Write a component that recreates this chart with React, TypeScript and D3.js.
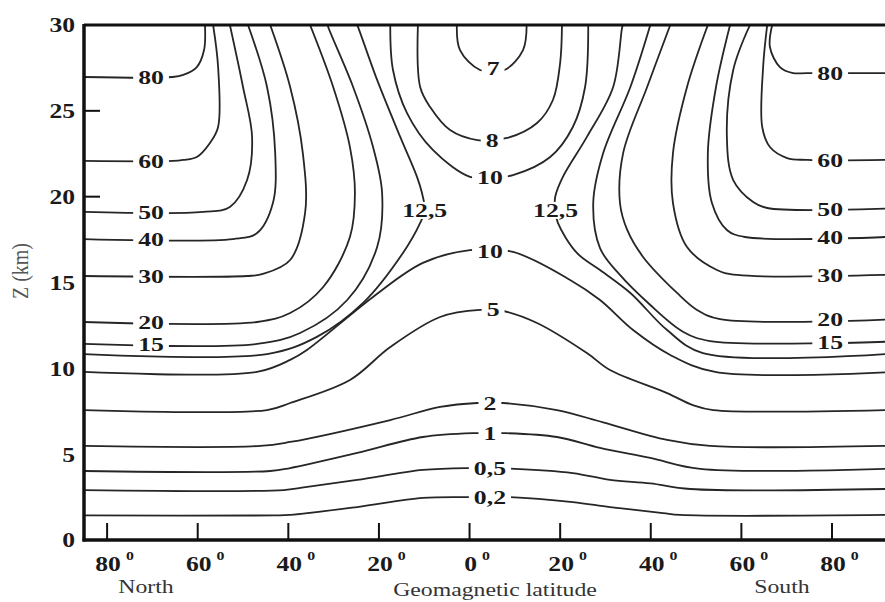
import React from 'react';
import * as d3 from 'd3';

type P = [number, number];

// latitude in degrees: positive = North (left), negative = South (right); z in km
const xTicks = [80, 60, 40, 20, 0, -20, -40, -60, -80];
const yTicks = [0, 5, 10, 15, 20, 25, 30];
const yInnerTicks = [20, 25];

const c02: P[] = [[85.1,1.43],[43,1.43],[39.6,1.46],[24.8,1.92],[10.3,2.45],[-0.1,2.5],[-8.9,2.5],[-22.8,2.21],[-31.0,1.92],[-42.7,1.57],[-46.5,1.46],[-91.7,1.46]];
const c05: P[] = [[85.1,2.91],[41,2.91],[37,3.05],[24.8,3.5],[10.3,4.08],[-0.1,4.19],[-8.9,4.16],[-22.8,3.9],[-31.0,3.5],[-39.9,3.3],[-48.7,2.97],[-91.7,2.97]];
const c1: P[] = [[85.1,4.02],[44,4.02],[39.6,4.19],[24.8,5.07],[10.3,6.0],[-1.7,6.23],[-7.4,6.23],[-19.3,6.0],[-28.8,5.36],[-39.9,4.78],[-50.9,4.14],[-91.7,4.14]];
const c2: P[] = [[85.1,5.48],[46.2,5.48],[39.6,5.71],[17.5,6.99],[6.5,7.75],[-1.7,7.98],[-7.4,7.98],[-19.3,7.57],[-29.5,6.85],[-43.6,5.83],[-53.1,5.48],[-91.7,5.48]];
const c5: P[] = [[85.1,7.57],[44.7,7.57],[39.6,7.98],[26.4,9.32],[17.5,11.24],[6.5,12.99],[-2.3,13.4],[-7.4,13.34],[-14.9,12.64],[-25.9,10.89],[-31.0,9.9],[-43.6,8.56],[-49.3,7.86],[-53.8,7.57],[-91.7,7.57]];
const c10Low: P[] = [[85.1,9.79],[46.9,9.79],[39.6,10.49],[35.9,11.07],[21.3,14.16],[10.3,16.14],[-0.1,16.89],[-9.6,16.78],[-22.2,15.15],[-28.8,13.98],[-36.1,12.23],[-44.3,10.78],[-54.2,9.79],[-91.7,9.76]];
const c10Up: P[] = [[17.5,30],[16.9,27.38],[13.8,24.87],[8.1,22.72],[-0.1,21.15],[-4.5,21.1],[-9.6,21.26],[-17.8,22.31],[-22.8,24.06],[-25.5,26.39],[-26.2,30]];
const c8: P[] = [[11.4,30],[10.9,26.39],[8.7,25.22],[4.3,23.88],[-1.7,23.3],[-8.3,23.42],[-14.9,24.29],[-18.4,25.63],[-20.0,27.8],[-20.4,30]];
const c7: P[] = [[2.8,30],[2.1,28.54],[-2.3,27.38],[-7.7,27.38],[-11.8,28.54],[-12.6,30]];
const c125N: P[] = [[85.1,10.83],[44.7,10.83],[33.7,11.83],[23.5,13.81],[14.7,16.72],[10.9,18.47],[9.9,19.22],[10.5,20.21],[11.6,21.15],[15.3,23.48],[20.4,26.8],[24.6,29.88],[24.8,30]];
const c125S: P[] = [[-33.9,30],[-33.7,29.88],[-31.7,26.39],[-25.9,23.48],[-20.6,21.15],[-18.9,19.98],[-18.9,19.2],[-19.5,18.47],[-23.7,16.72],[-28.8,15.73],[-35.5,14.39],[-43.6,12.23],[-51.5,10.89],[-91.7,10.83]];
const c15N: P[] = [[85.1,11.42],[46.9,11.42],[37.4,12.06],[27.0,13.98],[20.4,17.07],[19.3,20.21],[21.3,22.89],[25.7,26.39],[31.2,29.88],[31.3,30]];
const c15S: P[] = [[-39.9,30],[-35.5,26.39],[-29.5,22.54],[-27.3,19.63],[-28.8,17.0],[-33.2,15.44],[-39.9,13.69],[-47.2,12.12],[-53.1,11.59],[-91.7,11.55]];
const c20N: P[] = [[85.1,12.7],[46.9,12.7],[39.6,13.22],[32.3,14.74],[26.4,17.65],[25.3,20.21],[26.4,22.89],[30.1,26.39],[35.2,30]];
const c20S: P[] = [[-44.3,30],[-39.2,26.39],[-33.9,22.54],[-33.2,19.63],[-34.8,18.06],[-38.3,16.49],[-45.8,14.39],[-50.2,13.4],[-55.3,12.86],[-91.7,12.84]];
const c30N: P[] = [[85.1,15.38],[49.1,15.38],[45.6,15.5],[39.6,16.31],[36.3,19.05],[36.8,22.54],[39.6,26.39],[44.0,30]];
const c30S: P[] = [[-52.6,30],[-48.0,26.39],[-44.9,22.54],[-44.9,19.63],[-48.0,17.07],[-54.6,15.73],[-59.1,15.44],[-91.7,15.44]];
const c40N: P[] = [[85.1,17.53],[52.2,17.53],[46.9,17.88],[43.4,19.63],[42.9,22.54],[44.7,26.39],[48.9,30]];
const c40S: P[] = [[-57.5,30],[-54.4,26.39],[-52.6,22.54],[-53.5,19.63],[-56.8,18.06],[-60.8,17.65],[-91.7,17.65]];
const c50N: P[] = [[85.1,19.11],[58.8,19.11],[52.9,19.4],[49.1,20.97],[48.0,23.48],[50.0,26.39],[52.9,30]];
const c50S: P[] = [[-61.9,30],[-58.2,27.38],[-56.8,23.48],[-58.2,20.97],[-62.6,19.69],[-65.7,19.34],[-91.7,19.3]];
const c60N: P[] = [[85.1,22.08],[65.5,22.08],[63.2,22.14],[60.2,22.31],[57.3,23.13],[55.5,24.06],[55.5,27.55],[56.6,30]];
const c60S: P[] = [[-65.7,30],[-64.8,27.55],[-64.6,24.06],[-66.3,22.89],[-70.1,22.25],[-74.5,22.14],[-91.7,22.14]];
const c80N: P[] = [[85.1,26.97],[65.5,26.97],[63.2,27.09],[60.2,27.55],[58.6,28.54],[58.4,30]];
const c80S: P[] = [[-66.8,30],[-66.3,28.72],[-68.5,27.55],[-71.4,27.2],[-74.5,27.2],[-91.7,27.2]];

const contours: P[][] = [c02, c05, c1, c2, c5, c10Low, c10Up, c8, c7, c125N, c125S, c15N, c15S, c20N, c20S, c30N, c30S, c40N, c40S, c50N, c50S, c60N, c60S, c80N, c80S];

const labelText = ['80','60','50','40','30','20','15','80','60','50','40','30','20','15','7','8','10','12,5','12,5','10','5','2','1','0,5','0,2'];
const labelLat = [70.3,70.3,70.3,70.3,70.3,70.3,70.3,-79.6,-79.6,-79.6,-79.6,-79.6,-79.6,-79.6,-5.2,-5,-4.5,9.9,-19,-4.5,-5.2,-4.5,-4.5,-4.5,-4.5];
const labelZ = [26.97,22.08,19.11,17.53,15.38,12.7,11.42,27.2,22.14,19.3,17.65,15.44,12.84,11.55,27.5,23.3,21.15,19.2,19.2,16.8,13.45,7.98,6.23,4.17,2.5];

const W = 885, H = 602;
const FONT = '"Liberation Serif", "Times New Roman", serif';
const SX = 1.22;

export default function App() {
  const x = d3.scaleLinear().domain([85.1, -91.7]).range([84, 885]);
  const y = d3.scaleLinear().domain([0, 30]).range([540, 25]);
  const line = d3.line<P>().x(d => x(d[0])).y(d => y(d[1])).curve(d3.curveCatmullRom.alpha(0.5));
  const fs = 21;
  const lfs = 19.5;
  const LSX = 1.32;
  const textW = (s: string, f: number, sx: number) => s.split('').reduce((a, c) => a + (c === ',' ? 0.25 : 0.5), 0) * f * sx;

  return (
    <svg width={W} height={H} style={{ position: 'absolute', left: 0, top: 0, background: '#fff' }}>
      <defs>
        <clipPath id="plot"><rect x={84} y={25} width={801} height={515} /></clipPath>
      </defs>
      <rect x={0} y={0} width={W} height={H} fill="#fff" />
      <g clipPath="url(#plot)">
        {contours.map((c, i) => (
          <path key={i} d={line(c) || ''} fill="none" stroke="#262626" strokeWidth={1.8} />
        ))}
        {labelText.map((t, i) => {
          const cx = x(labelLat[i]);
          const cy = y(labelZ[i]);
          const w = textW(t, lfs, LSX) + 10;
          return (
            <g key={i}>
              <rect x={cx - w / 2} y={cy - 8.5} width={w} height={17} fill="#fff" />
              <text transform={`translate(${cx},${cy}) scale(${LSX},1)`} textAnchor="middle" dy="0.35em"
                fontFamily={FONT} fontWeight="bold" fontSize={lfs} fill="#1a1a1a">{t}</text>
            </g>
          );
        })}
      </g>
      {/* frame */}
      <line x1={84} x2={885} y1={25} y2={25} stroke="#111" strokeWidth={3} />
      <line x1={84} x2={84} y1={24} y2={541.5} stroke="#111" strokeWidth={3.5} />
      <line x1={82.5} x2={885} y1={540} y2={540} stroke="#111" strokeWidth={3.5} />
      {/* x ticks */}
      {xTicks.map((t, i) => (
        <g key={i}>
          <line x1={x(t)} x2={x(t)} y1={540} y2={523} stroke="#111" strokeWidth={2} />
          <text transform={`translate(${x(t) + 1},571) scale(${SX},1)`} textAnchor="middle"
            fontFamily={FONT} fontWeight="bold" fontSize={fs} fill="#1a1a1a">{Math.abs(t)}</text>
          <text transform={`translate(${x(t) + 1 + textW(String(Math.abs(t)), fs, SX) / 2 + 5},560) scale(${SX},1)`} textAnchor="start"
            fontFamily={FONT} fontWeight="bold" fontSize={13} fill="#1a1a1a">0</text>
        </g>
      ))}
      {/* y ticks */}
      {yInnerTicks.map((t, i) => (
        <line key={i} x1={84} x2={100} y1={y(t)} y2={y(t)} stroke="#111" strokeWidth={2} />
      ))}
      {yTicks.map((t, i) => (
        <text key={i} transform={`translate(75,${y(t)}) scale(${SX},1)`} textAnchor="end" dy="0.35em"
          fontFamily={FONT} fontWeight="bold" fontSize={fs} fill="#1a1a1a">{t}</text>
      ))}
      <text transform={`translate(28,271) rotate(-90) scale(1,1.2)`} textAnchor="middle"
        fontFamily={FONT} fontSize={20} fill="#555">Z (km)</text>
      <text transform={`translate(146,593) scale(1.25,1)`} textAnchor="middle" fontFamily={FONT} fontSize={19} fill="#333">North</text>
      <text transform={`translate(782,593) scale(1.25,1)`} textAnchor="middle" fontFamily={FONT} fontSize={19} fill="#333">South</text>
      <text transform={`translate(495,596) scale(1.25,1)`} textAnchor="middle" fontFamily={FONT} fontSize={19} fill="#333">Geomagnetic latitude</text>
    </svg>
  );
}
